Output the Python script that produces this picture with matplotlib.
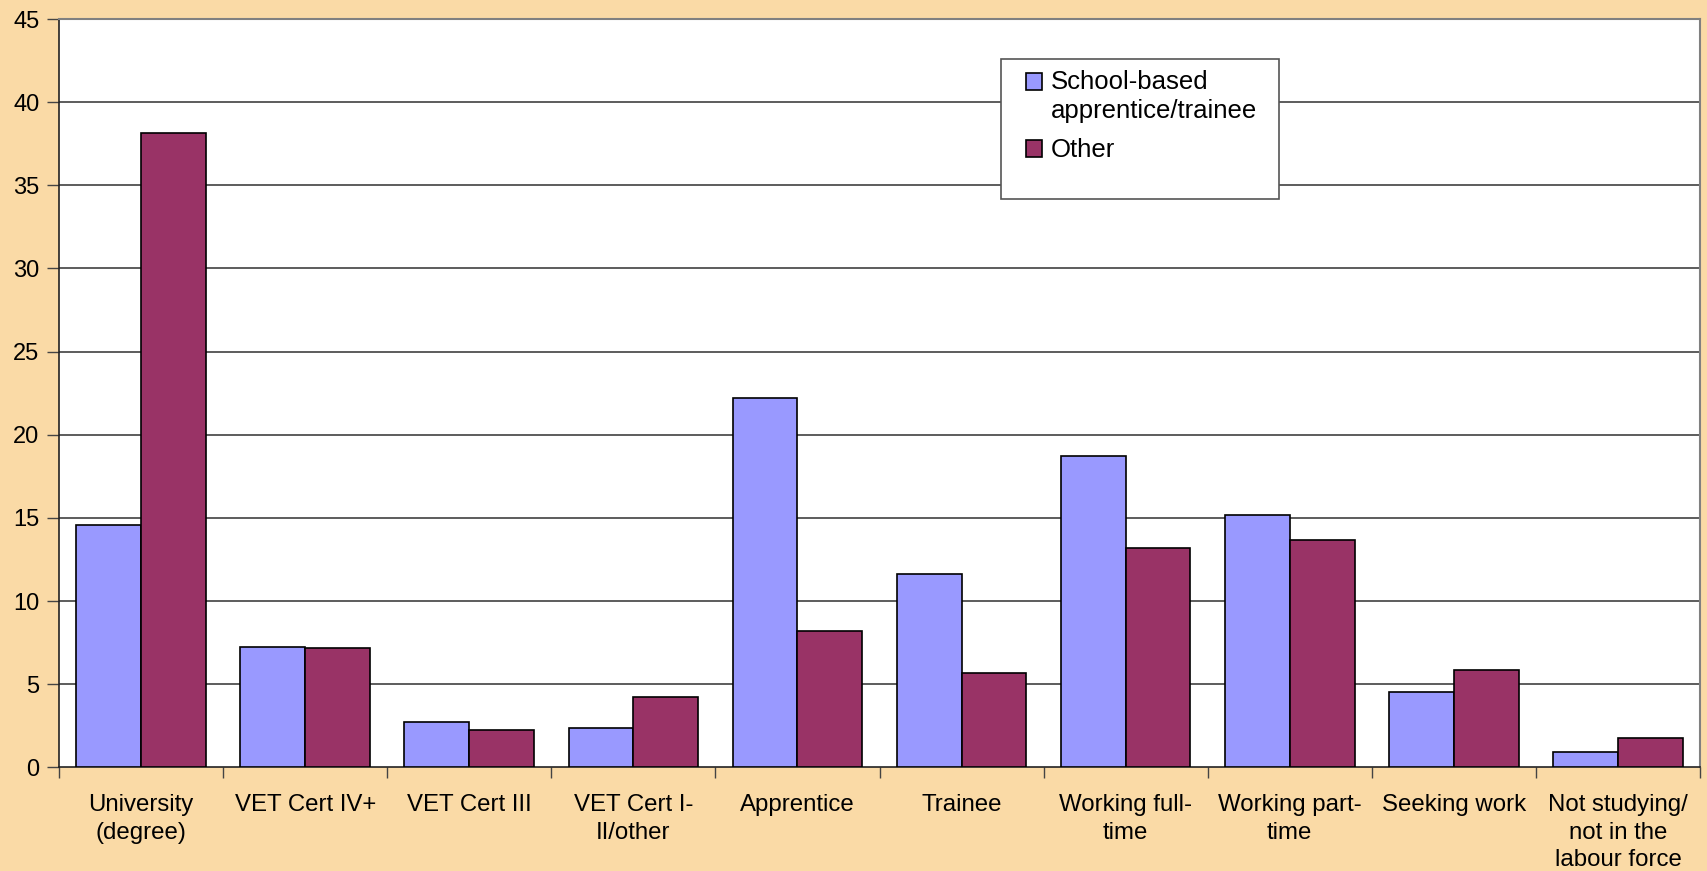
import matplotlib
matplotlib.use("Agg")
import matplotlib.pyplot as plt
from matplotlib.patches import Rectangle
from matplotlib.legend_handler import HandlerPatch
import numpy as np

plt.rcParams['font.family'] = ['Liberation Sans', 'DejaVu Sans']

categories = ["University\n(degree)", "VET Cert IV+", "VET Cert III", "VET Cert I-\nII/other",
              "Apprentice", "Trainee", "Working full-\ntime", "Working part-\ntime",
              "Seeking work", "Not studying/\nnot in the\nlabour force"]
school_based = [14.6, 7.25, 2.7, 2.35, 22.2, 11.6, 18.7, 15.15, 4.55, 0.94]
other = [38.15, 7.15, 2.25, 4.2, 8.2, 5.65, 13.2, 13.65, 5.85, 1.76]
series_labels = ["School-based\napprentice/trainee", "Other"]
yticks = [0, 5, 10, 15, 20, 25, 30, 35, 40, 45]

BG = '#FADAA6'
BLUE = '#9999FF'
RED = '#993366'

fig = plt.figure(figsize=(17.07, 8.71), dpi=100, facecolor=BG)
ax = fig.add_axes([59/1707, 1-767.3/871, (1700-59)/1707, (767.3-19)/871])
ax.set_facecolor('white')

x = np.arange(len(categories))
w = 0.395
b1 = ax.bar(x - w/2, school_based, w, color=BLUE, edgecolor='black', linewidth=1.2,
            label=series_labels[0], zorder=3)
b2 = ax.bar(x + w/2, other, w, color=RED, edgecolor='black', linewidth=1.2,
            label=series_labels[1], zorder=3)

ax.set_xlim(-0.5, len(categories) - 0.5)
ax.set_ylim(0, 45)
ax.set_yticks(yticks)
ax.set_yticklabels([str(v) for v in yticks], fontsize=17)
for v in yticks[1:]:
    ax.axhline(v, color='#303030', linewidth=1.1, zorder=1)

ax.set_xticks(np.arange(len(categories) + 1) - 0.5)
ax.set_xticklabels([])
ax.set_xticks(x, minor=True)
ax.set_xticklabels(categories, minor=True, fontsize=17.3, linespacing=1.32, va='top')
ax.tick_params(axis='x', which='minor', length=0, pad=19.5)
ax.tick_params(axis='x', which='major', length=8, width=1, color='#444444', direction='out')
ax.tick_params(axis='y', length=9, width=1, color='#444444', direction='out', pad=5)

for s in ['top', 'right']:
    ax.spines[s].set_color('#808080')
    ax.spines[s].set_linewidth(1.5)
for s in ['left', 'bottom']:
    ax.spines[s].set_color('#222222')
    ax.spines[s].set_linewidth(1.2)

# legend box
box = Rectangle((1001/1707, 1-199/871), (1279-1001)/1707, (199-59)/871,
                transform=fig.transFigure, facecolor='white',
                edgecolor='#555555', linewidth=1.2, zorder=5, clip_on=False)
ax.add_patch(box)


def top_square(legend, orig_handle, xdescent, ydescent, width, height, fontsize):
    return Rectangle((-xdescent, -ydescent + 0.62 * fontsize), width, height)


h1 = b1.patches[0]
h2 = b2.patches[0]
leg = ax.legend(handles=[h1, h2], labels=series_labels, loc='upper left',
                bbox_to_anchor=(1008/1707, 1-52.5/871), bbox_transform=fig.transFigure,
                frameon=False, fontsize=18.5, handlelength=0.62, handleheight=0.62,
                handletextpad=0.35, labelspacing=0.6, borderpad=0.2,
                handler_map={h1: HandlerPatch(patch_func=top_square)})
leg.set_zorder(6)
for t in leg.get_texts():
    t.set_linespacing(1.24)

fig.savefig('out.png', dpi=100, facecolor=BG)
